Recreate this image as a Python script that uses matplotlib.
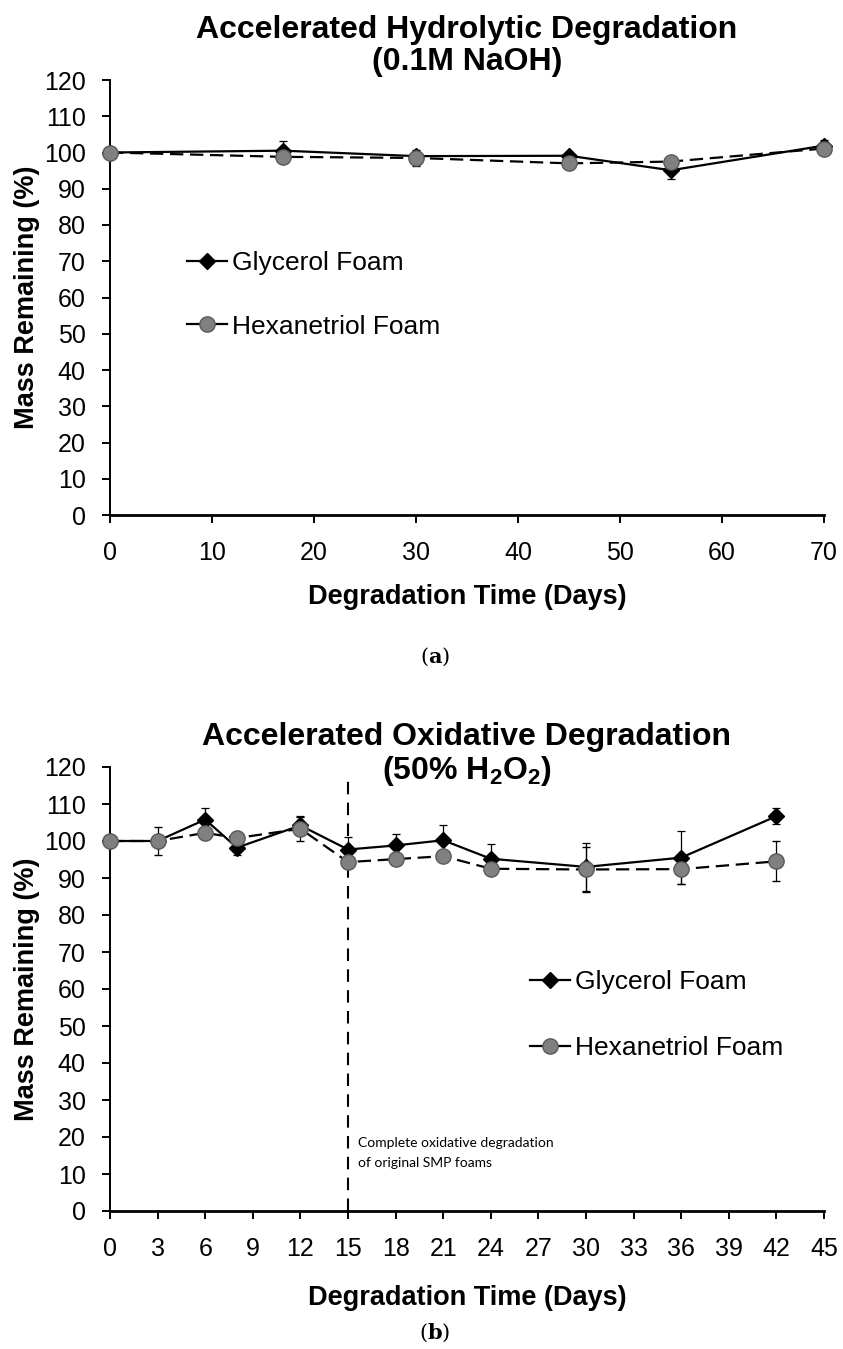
import numpy as np
import matplotlib
matplotlib.use("Agg")
import matplotlib.pyplot as plt
from matplotlib.lines import Line2D

plt.rcParams['font.family'] = ['Liberation Sans', 'DejaVu Sans']
plt.rcParams['mathtext.fontset'] = 'custom'
plt.rcParams['mathtext.rm'] = 'Liberation Sans'
plt.rcParams['mathtext.bf'] = 'Liberation Sans:bold'

# (a) hydrolytic degradation, 0.1M NaOH
days_a = [0, 17, 30, 45, 55, 70]
glycerol_a = [100.0, 100.5, 99.0, 99.1, 95.1, 101.9]
glycerol_a_err = [0.3, 2.8, 1.5, 1.0, 2.4, 1.5]
hexanetriol_a = [100.0, 98.8, 98.5, 97.0, 97.5, 101.1]
hexanetriol_a_err = [0.3, 0.8, 2.2, 1.2, 0.8, 1.0]

# (b) oxidative degradation, 50% H2O2
days_b = [0, 3, 6, 8, 12, 15, 18, 21, 24, 30, 36, 42]
glycerol_b = [100.0, 100.0, 105.8, 98.2, 104.2, 97.7, 98.8, 100.2, 95.2, 93.0, 95.5, 106.7]
glycerol_b_err = [0.3, 0.5, 3.1, 2.0, 2.5, 3.4, 3.2, 4.0, 3.9, 6.4, 7.1, 2.2]
hexanetriol_b = [100.0, 100.0, 102.2, 100.8, 103.3, 94.3, 95.1, 95.9, 92.5, 92.3, 92.4, 94.5]
hexanetriol_b_err = [0.3, 3.9, 1.0, 1.0, 3.2, 1.5, 1.0, 1.0, 1.5, 6.0, 3.9, 5.4]

complete_day = 15
vline_top = 118

W, H = 843, 1349
fig = plt.figure(figsize=(W / 100, H / 100), dpi=100)


def style_axes(ax, xmax, xstep):
    ax.set_xlim(0, xmax)
    ax.set_ylim(0, 120)
    ax.set_xticks(np.arange(0, xmax + 1, xstep))
    ax.set_yticks(np.arange(0, 121, 10))
    for s in ['top', 'right']:
        ax.spines[s].set_visible(False)
    ax.spines['left'].set_linewidth(1.4)
    ax.spines['bottom'].set_linewidth(2.0)
    ax.tick_params(axis='both', direction='out', length=5.5, width=1.4,
                   labelsize=18)
    ax.tick_params(axis='x', pad=13)
    ax.tick_params(axis='y', pad=12)
    ax.set_ylabel("Mass Remaining (%)", fontsize=19.5, fontweight='bold')
    ax.set_xlabel("Degradation Time (Days)", fontsize=19.5, fontweight='bold')
    ax.yaxis.set_label_coords(-0.098, 0.5)


def draw_series(ax, x, g, ge, h, he):
    ax.errorbar(x, g, yerr=ge, color='black', lw=1.6, ls='-',
                marker='D', ms=8, mfc='black', mec='black',
                ecolor='black', elinewidth=0.9, capsize=3, capthick=0.9,
                clip_on=False, zorder=3)
    ax.errorbar(x, h, yerr=he, color='black', lw=1.6, ls=(0, (6, 3)),
                marker='o', ms=11, mfc='#808080', mec='#5a5a5a', mew=1.0,
                ecolor='black', elinewidth=0.9, capsize=3, capthick=0.9,
                clip_on=False, zorder=4)


def add_legend(ax, anchor, spacing):
    handles = [
        Line2D([], [], color='black', lw=1.6, marker='D', ms=8, mfc='black', mec='black'),
        Line2D([], [], color='black', lw=1.6, marker='o', ms=11, mfc='#808080',
               mec='#5a5a5a', mew=1.0),
    ]
    ax.legend(handles, ["Glycerol Foam", "Hexanetriol Foam"], loc='upper left',
              bbox_to_anchor=anchor, frameon=False, fontsize=19, handlelength=1.5,
              handletextpad=0.2, labelspacing=spacing, borderpad=0, borderaxespad=0)


# panel (a)
ax1 = fig.add_axes([110 / W, 1 - 515 / H, 714 / W, 435 / H])
style_axes(ax1, 70, 10)
draw_series(ax1, days_a, glycerol_a, glycerol_a_err, hexanetriol_a, hexanetriol_a_err)
ax1.xaxis.set_label_coords(0.5, -0.158)
add_legend(ax1, ((187 - 110) / 714, (515 - 251) / 435), 1.5)
fig.text(467 / W, 1 - 46 / H, "Accelerated Hydrolytic Degradation\n(0.1M NaOH)",
         ha='center', va='center', fontsize=23, fontweight='bold', linespacing=1.05)
fig.text(435 / W, 1 - 657 / H, r"($\mathbf{a}$)", ha='center', va='center',
         fontsize=15, family='DejaVu Serif', math_fontfamily='dejavuserif')

# panel (b)
ax2 = fig.add_axes([110 / W, 1 - 1211 / H, 714 / W, 444 / H])
style_axes(ax2, 45, 3)
draw_series(ax2, days_b, glycerol_b, glycerol_b_err, hexanetriol_b, hexanetriol_b_err)
ax2.xaxis.set_label_coords(0.5, -0.166)
ax2.vlines(complete_day, 0, vline_top, colors='black', lw=1.5,
           linestyles=(0, (6, 4)), zorder=2)
ax2.text(complete_day + 0.6, 18.4, "Complete oxidative degradation",
         fontsize=10, family='Lato', va='center', ha='left')
ax2.text(complete_day + 0.6, 13.0, "of original SMP foams",
         fontsize=10, family='Lato', va='center', ha='left')
add_legend(ax2, ((530 - 110) / 714, (1211 - 970) / 444), 1.6)
fig.text(467 / W, 1 - 755 / H, "Accelerated Oxidative Degradation\n" + r"(50% H$_\mathbf{2}$O$_\mathbf{2}$)",
         ha='center', va='center', fontsize=23, fontweight='bold', linespacing=1.05)
fig.text(435 / W, 1 - 1333 / H, r"($\mathbf{b}$)", ha='center', va='center',
         fontsize=15, family='DejaVu Serif', math_fontfamily='dejavuserif')

fig.savefig("out.png", dpi=100)
